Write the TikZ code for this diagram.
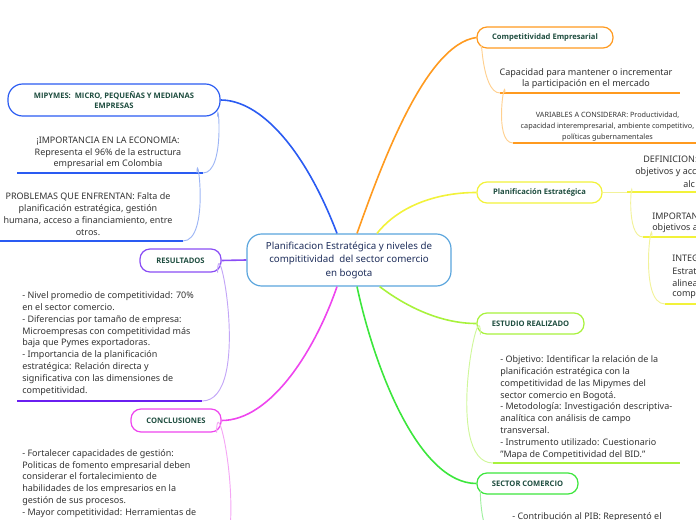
\documentclass[tikz,border=0pt]{standalone}
\usepackage{fontspec}
\setmainfont{Noto Sans}
\newfontfamily\topicfont{Open Sans}
\definecolor{hubline}{HTML}{5AA5DD}
\definecolor{hubtext}{HTML}{1F2F5C}
\definecolor{labgreen}{HTML}{1E4D3F}
\definecolor{bodygray}{HTML}{333333}
\definecolor{cblue}{HTML}{2A5BF2}
\definecolor{cbluel}{HTML}{9DB5F5}
\definecolor{corange}{HTML}{FF9A1F}
\definecolor{corangel}{HTML}{FFD08F}
\definecolor{cyellow}{HTML}{F2F23A}
\definecolor{cyellowl}{HTML}{F2F29A}
\definecolor{clime}{HTML}{A8F23C}
\definecolor{climel}{HTML}{CFF79A}
\definecolor{cgreen}{HTML}{3CE63C}
\definecolor{cgreenl}{HTML}{A0F0A0}
\definecolor{cpurple}{HTML}{8A4DF5}
\definecolor{cpurpled}{HTML}{6A1FF0}
\definecolor{cpurplel}{HTML}{C3A6F7}
\definecolor{cmagenta}{HTML}{EE45EE}
\definecolor{cmagental}{HTML}{F5A6F5}
\tikzset{
  hub/.style={draw=hubline, fill=white, line width=0.9pt, rounded corners=11pt,
    minimum width=153pt, minimum height=39pt, inner sep=0pt, align=center,
    text=hubtext, font=\fontsize{7.3}{10.1}\selectfont},
  topic/.style={draw, fill=white, line width=0.9pt, rounded corners=7.5pt,
    minimum height=15.75pt, inner sep=0pt, align=center,
    text=labgreen, font=\topicfont\bfseries\fontsize{5.7}{7.4}\selectfont},
  bodytext/.style={inner sep=0pt, text=bodygray, font=\fontsize{6.75}{8.85}\selectfont},
  smalltext/.style={inner sep=0pt, text=bodygray, font=\fontsize{5.45}{8.25}\selectfont},
  branch/.style={line width=1.2pt},
  twig/.style={line width=0.7pt},
  underline/.style={line width=1.5pt},
}
\begin{document}
\begin{tikzpicture}[x=0.75pt,y=0.75pt,yscale=-1,xscale=1]
\path[use as bounding box, clip] (0,0) rectangle (696,520);

%Shape: Central topic
\node[hub] (hub) at (349,260) {Planificacion Estratégica y niveles de\\compititividad\ \ del sector comercio\\en bogota};

%Shape: Main topics
\node[topic, draw=corange, minimum width=102pt] (comp) at (545,37.5) {Competitividad Empresarial};
\node[topic, draw=cyellow, minimum width=93.75pt] (plan) at (539.5,192.5) {Planificación Estratégica};
\node[topic, draw=clime, minimum width=80.25pt] (est) at (530.5,323.5) {ESTUDIO REALIZADO};
\node[topic, draw=cgreen, minimum width=75.75pt] (sec) at (527.5,483.5) {SECTOR COMERCIO};
\node[topic, draw=cblue, minimum width=159pt, minimum height=24pt, rounded corners=11pt] (mip) at (114,100) {MIPYMES:\ \ MICRO, PEQUEÑAS Y MEDIANAS\\EMPRESAS};
\node[topic, draw=cpurple, minimum width=60.75pt, minimum height=17.25pt] (res) at (180.5,260.5) {RESULTADOS};
\node[topic, draw=cmagenta, minimum width=67.5pt, minimum height=17.25pt] (conc) at (176,420.5) {CONCLUSIONES};

%Connectors: hub to main topics
\draw[branch, cblue] ([xshift=-9pt]hub.north) .. controls +(-32,-84) and +(40,0) .. (mip.east);
\draw[branch, corange] ([xshift=6pt]hub.north) .. controls +(23,-64) and +(-52,7) .. (comp.west);
\draw[branch, cyellow] ([xshift=21pt]hub.north) .. controls +(23,-29) and +(-37,0) .. (plan.west);
\draw[branch, clime] ([xshift=23pt]hub.south) .. controls +(25,19) and +(-37,0) .. (est.west);
\draw[branch, cgreen] ([xshift=6pt]hub.south) .. controls +(18,84) and +(-57,0) .. (sec.west);
\draw[branch, cmagenta] ([xshift=-9pt]hub.south) .. controls +(-22,64) and +(49,0) .. (conc.east);
\draw[branch, cpurple] (hub.west) -- (res.east);

% Competitividad Empresarial
\coordinate (c1a) at (500,93); \coordinate (c1b) at (680,93);
\coordinate (c2a) at (513,143); \coordinate (c2b) at (700,143);
\draw (586,79) node[bodytext, align=center, font=\fontsize{6.8}{8.4}\selectfont] (c1) {Capacidad para mantener o incrementar\\la participación en el mercado};
\draw (607.5,127) node[smalltext, align=center] (c2) {VARIABLES A CONSIDERAR: Productividad,\\capacidad interempresarial, ambiente competitivo,\\políticas gubernamentales};
\draw[underline, corange] (c1a) -- (c1b);
\draw[underline, corange] (c2a) -- (c2b);
\draw[twig, corangel] ([xshift=3.75pt]comp.south west) to[out=270, in=180] (c1a);
\draw[twig, corangel] ([xshift=3.75pt]c1a) to[out=270, in=180] (c2a);

% Planificacion Estrategica
\coordinate (p1a) at (627,192.5); \coordinate (p1b) at (700,192.5);
\coordinate (p2a) at (643,237); \coordinate (p2b) at (700,237);
\coordinate (p3a) at (665,304); \coordinate (p3b) at (700,304);
\draw (643,159) node[bodytext, anchor=west] (p1l1) {DEFINICION:};
\draw (635,172) node[bodytext, anchor=west] (p1l2) {objetivos y acc};
\draw (683,184) node[bodytext, anchor=west] (p1l3) {alc};
\draw (652,216) node[bodytext, anchor=west] (p2l1) {IMPORTAN};
\draw (652,228) node[bodytext, anchor=west] (p2l2) {objetivos a};
\draw (672,258) node[bodytext, anchor=west] (p3l1) {INTEG};
\draw (672,271) node[bodytext, anchor=west] (p3l2) {Estrat};
\draw (672,283) node[bodytext, anchor=west] (p3l3) {alinea};
\draw (672,295) node[bodytext, anchor=west] (p3l4) {compe};
\draw[underline, cyellow] (p1a) -- (p1b);
\draw[underline, cyellow] (p2a) -- (p2b);
\draw[underline, cyellow] (p3a) -- (p3b);
\draw[twig, cyellowl] (plan.east) -- (p1a);
\draw[twig, cyellowl] ([xshift=3.75pt]p1a) to[out=270, in=180] (p2a);
\draw[twig, cyellowl] ([xshift=6.75pt]p2a) to[out=270, in=180] (p3a);

% Estudio realizado
\coordinate (e1a) at (493,463); \coordinate (e1b) at (680,463);
\draw (500,407.5) node[bodytext, anchor=west, align=left] (e1) {- Objetivo: Identificar la relación de la\\planificación estratégica con la\\competitividad de las Mipymes del\\sector comercio en Bogotá.\\- Metodología: Investigación descriptiva-\\analítica con análisis de campo\\transversal.\\- Instrumento utilizado: Cuestionario\\"Mapa de Competitividad del BID."};
\draw[underline, clime] (e1a) -- (e1b);
\draw[twig, climel] ([xshift=3pt]est.south west) to[out=270, in=180] (e1a);

% Sector comercio
\coordinate (s1a) at (497,540);
\draw (512,517) node[bodytext, anchor=west] (s1) {- Contribución al PIB: Representó el};
\draw[twig, cgreenl] ([xshift=3pt]sec.south west) to[out=270, in=180] (s1a);

% MIPYMES
\coordinate (m1a) at (17,173); \coordinate (m1b) at (203,173);
\coordinate (m2a) at (-5,241); \coordinate (m2b) at (183,241);
\draw (108,153) node[bodytext, align=center] (m1) {¡IMPORTANCIA EN LA ECONOMIA:\\Representa el 96\% de la estructura\\empresarial em Colombia};
\draw (88,214) node[bodytext, align=center] (m2) {PROBLEMAS QUE ENFRENTAN: Falta de\\planificación estratégica, gestión\\humana, acceso a financiamiento, entre\\otros.};
\draw[underline, cblue] (m1a) -- (m1b);
\draw[underline, cblue] (m2a) -- (m2b);
\draw[twig, cbluel] ([xshift=-2.25pt]mip.south east) to[out=270, in=0] (m1b);
\draw[twig, cbluel] ([xshift=-4.5pt]m1b) to[out=270, in=0] (m2b);

% Resultados
\coordinate (r1a) at (17,401); \coordinate (r1b) at (202,401);
\draw (22,343.5) node[bodytext, anchor=west, align=left] (r1) {- Nivel promedio de competitividad: 70\%\\en el sector comercio.\\- Diferencias por tamaño de empresa:\\Microempresas con competitividad más\\baja que Pymes exportadoras.\\- Importancia de la planificación\\estratégica: Relación directa y\\significativa con las dimensiones de\\competitividad.};
\draw[underline, cpurpled] (r1a) -- (r1b);
\draw[twig, cpurplel] ([xshift=-3pt]res.south east) to[out=270, in=0] (r1b);

% Conclusiones
\coordinate (k1a) at (200,580);
\draw (22,483.5) node[bodytext, anchor=west, align=left] (k1) {- Fortalecer capacidades de gestión:\\Politicas de fomento empresarial deben\\considerar el fortalecimiento de\\habilidades de los empresarios en la\\gestión de sus procesos.\\- Mayor competitividad: Herramientas de};
\draw[twig, cmagental] ([xshift=-3.75pt]conc.south east) to[out=270, in=0] (k1a);

\end{tikzpicture}
\end{document}
